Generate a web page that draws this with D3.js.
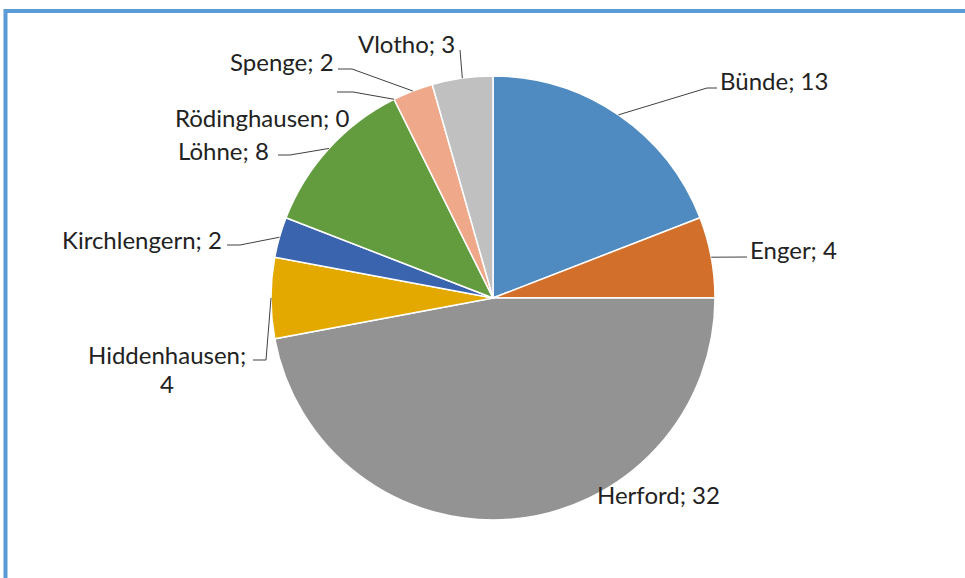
<!DOCTYPE html>
<html>
<head>
<meta charset="utf-8">
<script src="https://cdn.jsdelivr.net/npm/d3@7"></script>
<style>
  body { margin: 0; background: #fff; }
  svg { display: block; }
  .lbl { font-family: Lato, "Open Sans", sans-serif; font-size: 24px; fill: #222; }
</style>
</head>
<body>
<div id="graph"></div>
<script>
// data
var towns = ["Bünde", "Enger", "Herford", "Hiddenhausen", "Kirchlengern", "Löhne", "Rödinghausen", "Spenge", "Vlotho"];
var counts = [13, 4, 32, 4, 2, 8, 0, 2, 3];
var colors = ["#4f8bc0", "#d2702b", "#939393", "#e3a900", "#3b64ae", "#639c3f", "#7aa4d6", "#f0a88a", "#c0c0c0"];

// label placement (text pos + leader bend points), keyed by town
var labelPos = {
  "Bünde":        {x: 720, y: 80,  lines: ["Bünde; 13"], pts: [[707, 88], [717, 88]]},
  "Enger":        {x: 750, y: 249, lines: ["Enger; 4"], pts: [[747, 257]]},
  "Herford":      {x: 597, y: 494, lines: ["Herford; 32"], pts: null},
  "Hiddenhausen": {x: 88,  y: 354, lines: ["Hiddenhausen;", "4"], pts: [[266, 360], [253, 360]]},
  "Kirchlengern": {x: 62,  y: 239, lines: ["Kirchlengern; 2"], pts: [[240, 245], [227, 245]]},
  "Löhne":        {x: 178, y: 150, lines: ["Löhne; 8"], pts: [[290, 155], [278, 155]]},
  "Rödinghausen": {x: 175, y: 117, lines: ["Rödinghausen; 0"], pts: [[353, 92], [337, 92]]},
  "Spenge":       {x: 230, y: 61,  lines: ["Spenge; 2"], pts: [[352, 69], [338, 69]]},
  "Vlotho":       {x: 358, y: 43,  lines: ["Vlotho; 3"], pts: [[460, 50]]}
};

var width = 965, height = 578;
var cx = 493, cy = 298, r = 222;

var svg = d3.select('#graph').append('svg')
  .attr('width', width)
  .attr('height', height);

// chart frame (runs off right and bottom)
svg.append('rect')
  .attr('x', 5.5).attr('y', 11)
  .attr('width', width + 20).attr('height', height + 20)
  .attr('fill', 'none')
  .attr('stroke', '#5b9bd5')
  .attr('stroke-width', 4);

var data = towns.map(function(t, i) { return {name: t, value: counts[i], color: colors[i]}; });

var pie = d3.pie()
  .sort(null)
  .value(function(d) { return d.value; });

var arc = d3.arc().innerRadius(0).outerRadius(r);

var g = svg.append('g').attr('transform', 'translate(' + cx + ',' + cy + ')');
var arcs = pie(data);

g.selectAll('path.slice')
  .data(arcs.filter(function(d) { return d.data.value > 0; }))
  .enter().append('path')
  .attr('class', 'slice')
  .attr('d', arc)
  .attr('fill', function(d) { return d.data.color; })
  .attr('stroke', '#fff')
  .attr('stroke-width', 1.5);

// leader lines + labels
arcs.forEach(function(d) {
  var lp = labelPos[d.data.name];
  var a = (d.startAngle + d.endAngle) / 2;
  var sx = cx + r * Math.sin(a), sy = cy - r * Math.cos(a);
  if (lp.pts) {
    var pts = [[sx, sy]].concat(lp.pts);
    svg.append('path')
      .attr('d', d3.line()(pts))
      .attr('fill', 'none')
      .attr('stroke', '#404040')
      .attr('stroke-width', 1);
  }
  svg.append('text')
    .attr('class', 'lbl')
    .attr('x', lp.x)
    .attr('y', lp.y)
    .attr('dominant-baseline', 'central')
    .text(lp.lines[0]);
  if (lp.lines.length > 1) {
    svg.append('text')
      .attr('class', 'lbl')
      .attr('x', lp.x + 79)
      .attr('y', lp.y + 29)
      .attr('text-anchor', 'middle')
      .attr('dominant-baseline', 'central')
      .text(lp.lines[1]);
  }
});
</script>
</body>
</html>
